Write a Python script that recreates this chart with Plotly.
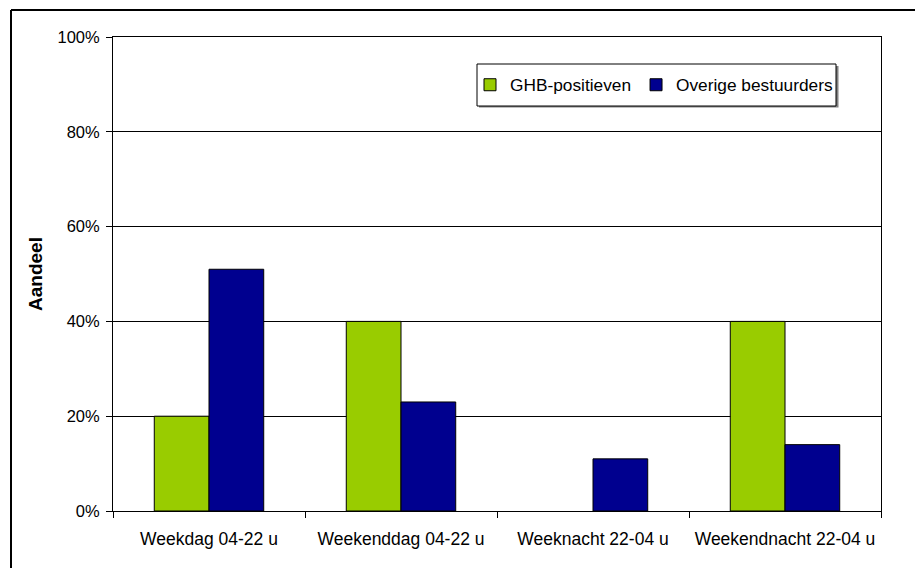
import plotly.graph_objects as go

# Share of drivers per time slot
categories = ["Weekdag 04-22 u", "Weekenddag 04-22 u", "Weeknacht 22-04 u", "Weekendnacht 22-04 u"]
ghb_positief = [20, 40, 0, 40]
overige_bestuurders = [51, 23, 11, 14]
y_ticks = [0, 20, 40, 60, 80, 100]
y_tick_labels = ["0%", "20%", "40%", "60%", "80%", "100%"]

W, H = 915, 568
ML, MR, MT, MB = 113, 34, 37, 57
PW, PH = W - ML - MR, H - MT - MB

def px_x(x):
    return (x - ML) / PW

def px_y(y):
    return (H - MB - y) / PH

FONT = "Liberation Sans, Arial, sans-serif"

def outline_widths(values):
    # no outline on empty bars
    return [1 if v > 0 else 0 for v in values]

fig = go.Figure()
fig.add_trace(go.Bar(
    x=categories, y=ghb_positief, name="GHB-positieven",
    marker=dict(color="#99CC00", line=dict(color="#000000", width=outline_widths(ghb_positief))),
))
fig.add_trace(go.Bar(
    x=categories, y=overige_bestuurders, name="Overige bestuurders",
    marker=dict(color="#00008F", line=dict(color="#000000", width=outline_widths(overige_bestuurders))),
))

# Outer chart frame (top and left edges)
fig.add_shape(type="line", xref="paper", yref="paper",
              x0=px_x(11), x1=px_x(W + 20), y0=px_y(10), y1=px_y(10),
              line=dict(color="#000000", width=2))
fig.add_shape(type="line", xref="paper", yref="paper",
              x0=px_x(11), x1=px_x(11), y0=px_y(10), y1=px_y(H + 20),
              line=dict(color="#000000", width=2))

# Legend box with drop shadow
fig.add_shape(type="rect", xref="paper", yref="paper",
              x0=px_x(479), x1=px_x(838.5), y0=px_y(66), y1=px_y(107.5),
              line=dict(width=0), fillcolor="#808080", layer="above")
fig.add_shape(type="rect", xref="paper", yref="paper",
              x0=px_x(477), x1=px_x(836), y0=px_y(64), y1=px_y(106),
              line=dict(color="#000000", width=1), fillcolor="white", layer="above")

fig.update_layout(
    width=W, height=H,
    margin=dict(l=ML, r=MR, t=MT, b=MB, pad=0),
    paper_bgcolor="white", plot_bgcolor="white",
    barmode="group", bargap=0.43, bargroupgap=0,
    font=dict(family=FONT, size=17, color="#000000"),
    showlegend=True,
    legend=dict(
        orientation="h", x=px_x(470), y=px_y(85), xanchor="left", yanchor="middle",
        bgcolor="rgba(0,0,0,0)", borderwidth=0,
        font=dict(family=FONT, size=17.3, color="#000000"),
        itemwidth=30,
    ),
    xaxis=dict(
        type="category", showline=True, linecolor="#000000", linewidth=1, mirror=True,
        ticks="outside", tickson="boundaries", ticklen=6, tickcolor="#000000",
        ticklabelstandoff=12,
        showgrid=False, tickfont=dict(family=FONT, size=17.5, color="#000000"),
    ),
    yaxis=dict(
        range=[0, 100], tickvals=y_ticks, ticktext=y_tick_labels,
        showline=True, linecolor="#000000", linewidth=1, mirror=True,
        ticks="outside", ticklen=6, tickcolor="#000000", ticklabelstandoff=3,
        showgrid=True, gridcolor="#000000", gridwidth=1, zeroline=False,
        tickfont=dict(family=FONT, size=16.5, color="#000000"),
        title=dict(text="<b>Aandeel</b>", font=dict(family=FONT, size=19, color="#000000"), standoff=9),
    ),
)

fig.write_html("out.html")
